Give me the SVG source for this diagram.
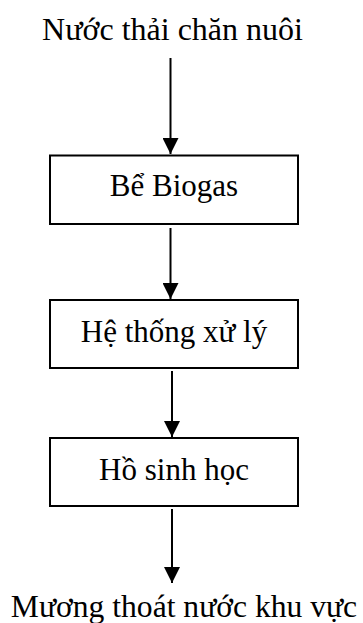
<svg xmlns="http://www.w3.org/2000/svg" width="363" height="623" viewBox="0 0 363 623">
<style>
text{font-family:"Liberation Serif","Times New Roman",serif;font-size:31px;fill:#000;text-anchor:middle}
.box{fill:#fff;stroke:#000;stroke-width:2}
.conn{stroke:#000;stroke-width:2;fill:none;marker-end:url(#arr)}
</style>
<defs>
<marker id="arr" markerUnits="userSpaceOnUse" markerWidth="16" markerHeight="16" viewBox="0 0 16 16" refX="16" refY="8" orient="auto">
<path d="M0,0 L16,8 L0,16 Z" fill="#000"/>
</marker>
</defs>
<rect width="363" height="623" fill="#fff"/>
<g id="connectors">
<line class="conn" x1="170.5" y1="58" x2="170.5" y2="154"/>
<line class="conn" x1="170.5" y1="228" x2="170.5" y2="299"/>
<line class="conn" x1="172" y1="371" x2="172" y2="437"/>
<line class="conn" x1="172" y1="509" x2="172" y2="583"/>
</g>
<g id="n_src"><text x="172.5" y="40" style="font-size:32px">Nước thải chăn nuôi</text></g>
<g id="n_biogas"><rect class="box" x="50" y="155.5" width="248" height="68.5"/><text x="174" y="196">Bể Biogas</text></g>
<g id="n_xuly"><rect class="box" x="50" y="300" width="248" height="68"/><text x="174" y="342">Hệ thống xử lý</text></g>
<g id="n_ho"><rect class="box" x="50" y="438" width="248" height="68"/><text x="174" y="480">Hồ sinh học</text></g>
<g id="n_dst"><text x="184" y="617" style="font-size:31.6px">Mương thoát nước khu vực</text></g>
</svg>
